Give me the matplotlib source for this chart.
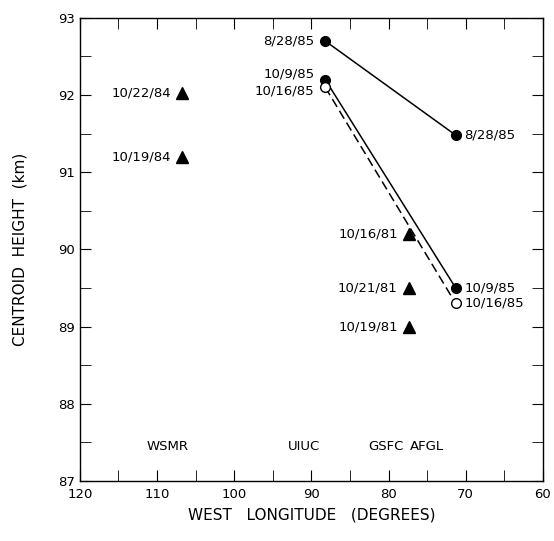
import matplotlib
matplotlib.use("Agg")
import matplotlib.pyplot as plt
from matplotlib.ticker import MultipleLocator

# Station longitudes (deg W)
uiuc_lon = 88.2
afgl_lon = 71.3
gsfc_lon = 77.4
wsmr_lon = 106.8

# Connected campaigns: (UIUC height, AFGL height)
series_names = ["8/28/85", "10/9/85", "10/16/85"]
uiuc_heights = [92.7, 92.2, 92.1]
afgl_heights = [91.48, 89.5, 89.3]
series_filled = [True, True, False]
series_dashed = [False, False, True]

# Triangle points
tri_lons = [wsmr_lon, wsmr_lon, gsfc_lon, gsfc_lon, gsfc_lon]
tri_heights = [92.02, 91.2, 90.2, 89.5, 89.0]
tri_labels = ["10/22/84", "10/19/84", "10/16/81", "10/21/81", "10/19/81"]

stations = ["WSMR", "UIUC", "GSFC", "AFGL"]
station_x = [108.6, 90.9, 80.4, 75.0]
station_y = 87.45

fig = plt.figure(figsize=(5.54, 5.41), dpi=100)
ax = fig.add_axes([0.144, 0.111, 0.836, 0.856])
fs = 9.5

for name, u, a, filled, dashed in zip(series_names, uiuc_heights, afgl_heights,
                                        series_filled, series_dashed):
    ax.plot([uiuc_lon, afgl_lon], [u, a], color="black", lw=1.1,
            ls=(0, (6, 3)) if dashed else "-", zorder=2)
    ax.plot([uiuc_lon, afgl_lon], [u, a], ls="none", marker="o", ms=7,
            mfc="black" if filled else "white", mec="black", mew=1.0, zorder=3)

# UIUC labels (left of markers)
ax.text(uiuc_lon + 1.4, uiuc_heights[0], series_names[0], ha="right", va="center", fontsize=fs)
ax.text(uiuc_lon + 1.4, uiuc_heights[1] + 0.07, series_names[1], ha="right", va="center", fontsize=fs)
ax.text(uiuc_lon + 1.4, uiuc_heights[2] - 0.05, series_names[2], ha="right", va="center", fontsize=fs)
# AFGL labels (right)
for name, a in zip(series_names, afgl_heights):
    ax.text(afgl_lon - 1.1, a, name, ha="left", va="center", fontsize=fs)

ax.plot(tri_lons, tri_heights, ls="none", marker="^", ms=8, color="black", zorder=3)
for x, y, lab in zip(tri_lons, tri_heights, tri_labels):
    ax.text(x + 1.4, y, lab, ha="right", va="center", fontsize=fs)

for s, x in zip(stations, station_x):
    ax.text(x, station_y, s, ha="center", va="center", fontsize=fs)

ax.set_xlim(120, 60)
ax.set_ylim(87, 93)
ax.xaxis.set_major_locator(MultipleLocator(10))
ax.xaxis.set_minor_locator(MultipleLocator(5))
ax.yaxis.set_major_locator(MultipleLocator(1))
ax.yaxis.set_minor_locator(MultipleLocator(0.5))
ax.tick_params(which="both", direction="in", top=True, right=True, labelsize=fs,
               length=8)
ax.tick_params(axis="x", pad=5)
ax.set_xlabel("WEST   LONGITUDE   (DEGREES)", fontsize=11, labelpad=5)
ax.set_ylabel("CENTROID  HEIGHT  (km)", fontsize=11, labelpad=22)
for sp in ax.spines.values():
    sp.set_linewidth(1.0)

fig.savefig("out.png", dpi=100)
